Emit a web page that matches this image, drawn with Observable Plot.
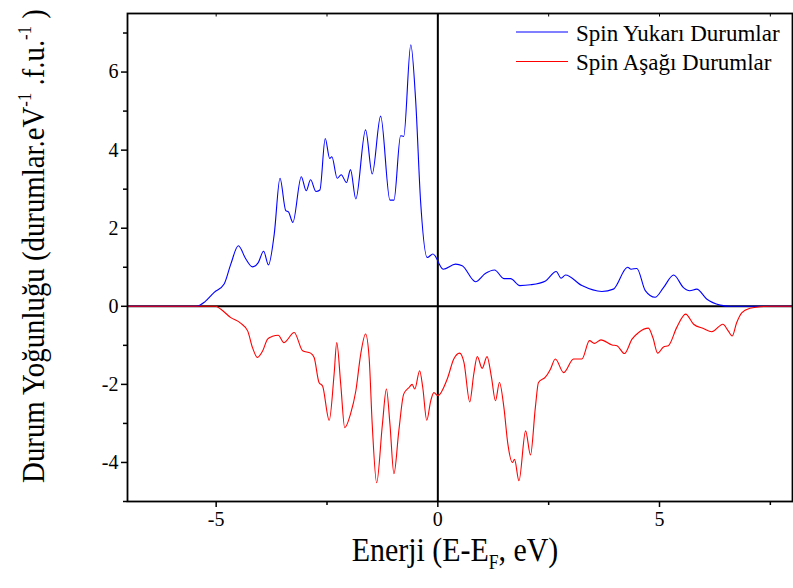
<!DOCTYPE html>
<html>
<head>
<meta charset="utf-8">
<script src="https://cdn.jsdelivr.net/npm/d3@7"></script>
<script src="https://cdn.jsdelivr.net/npm/@observablehq/plot@0.6"></script>
<style>
  html, body { margin: 0; padding: 0; background: #fff; }
  #chart svg, #chart svg text { font-family: "Liberation Serif", "Times New Roman", serif !important; }
</style>
</head>
<body>
<div id="chart"></div>
<script>
// ---- Data ----
const xDomain = [-7, 8];
const yDomain = [-5, 7.5];
const xMajorTicks = [-5, 0, 5];
const xMinorTicks = [-2.5, 2.5, 7.5];
const yMajorTicks = [-4, -2, 0, 2, 4, 6];
const yMinorTicks = [-5, -3, -1, 1, 3, 5, 7];

const seriesNames = ["Spin Yukarı Durumlar", "Spin Aşağı Durumlar"];
const seriesColors = ["#0000ff", "#ff0000"];

const energyUp = [-7, -5.45, -5.25, -5.05, -4.82, -4.67, -4.50, -4.33, -4.18, -4.05, -3.93, -3.82, -3.69, -3.56, -3.43, -3.37, -3.27, -3.08, -2.97, -2.87, -2.75, -2.66, -2.54, -2.44, -2.39, -2.27, -2.18, -2.06, -1.97, -1.85, -1.63, -1.48, -1.29, -1.08, -0.99, -0.84, -0.77, -0.61, -0.50, -0.39, -0.24, -0.11, 0.12, 0.40, 0.55, 0.85, 1.07, 1.28, 1.49, 1.64, 1.85, 2.09, 2.43, 2.67, 2.78, 2.88, 3.25, 3.70, 3.96, 4.28, 4.36, 4.49, 4.68, 4.90, 5.09, 5.32, 5.54, 5.68, 5.84, 6.07, 6.37, 6.59, 8];
const dosUp = [0, 0, 0.12, 0.35, 0.57, 1.08, 1.55, 1.21, 1.01, 1.12, 1.41, 1.06, 1.85, 3.28, 2.45, 2.42, 2.15, 3.32, 2.96, 3.24, 2.94, 2.98, 4.30, 3.79, 3.83, 3.28, 3.37, 3.17, 3.50, 2.75, 4.52, 3.39, 4.87, 2.72, 2.72, 4.37, 4.35, 6.70, 5.27, 2.71, 1.25, 1.34, 0.95, 1.08, 1.04, 0.63, 0.84, 0.93, 0.71, 0.71, 0.53, 0.55, 0.65, 0.89, 0.72, 0.80, 0.53, 0.38, 0.44, 1.00, 0.95, 0.97, 0.40, 0.23, 0.48, 0.80, 0.48, 0.40, 0.44, 0.18, 0.03, 0, 0];

const energyDown = [-7, -5.01, -4.90, -4.67, -4.45, -4.29, -4.18, -4.07, -3.95, -3.84, -3.73, -3.60, -3.47, -3.24, -3.05, -2.87, -2.79, -2.68, -2.60, -2.45, -2.34, -2.28, -2.19, -2.10, -1.97, -1.85, -1.74, -1.63, -1.55, -1.48, -1.38, -1.25, -1.16, -1.08, -0.99, -0.88, -0.77, -0.65, -0.58, -0.52, -0.41, -0.34, -0.25, -0.16, -0.09, 0.00, 0.21, 0.36, 0.49, 0.59, 0.72, 0.81, 0.89, 1.00, 1.11, 1.21, 1.30, 1.39, 1.49, 1.58, 1.68, 1.73, 1.83, 1.98, 2.09, 2.20, 2.27, 2.43, 2.54, 2.65, 2.84, 3.06, 3.25, 3.42, 3.53, 3.68, 3.93, 4.04, 4.21, 4.38, 4.53, 4.75, 4.85, 4.96, 5.09, 5.20, 5.39, 5.59, 5.77, 5.99, 6.18, 6.43, 6.55, 6.64, 6.74, 6.86, 7.04, 7.27, 7.5, 8];
const dosDown = [0, 0, -0.07, -0.29, -0.43, -0.63, -1.06, -1.31, -1.14, -0.84, -0.77, -0.74, -0.93, -0.67, -1.14, -1.20, -1.31, -1.95, -2.04, -2.92, -1.74, -0.93, -2.00, -3.11, -2.76, -2.17, -1.23, -0.71, -1.31, -3.02, -4.52, -3.02, -2.12, -3.02, -4.29, -3.19, -2.25, -2.08, -2.00, -2.12, -1.65, -2.08, -2.92, -2.42, -2.21, -2.29, -1.87, -1.35, -1.20, -1.44, -2.45, -1.74, -1.29, -1.59, -1.29, -1.82, -2.42, -1.95, -2.59, -3.53, -4.00, -3.92, -4.47, -3.19, -3.81, -2.59, -1.95, -1.81, -1.61, -1.35, -1.70, -1.35, -1.35, -0.88, -0.95, -0.86, -0.99, -1.01, -1.21, -0.84, -0.67, -0.56, -0.80, -1.20, -1.04, -1.01, -0.54, -0.20, -0.46, -0.57, -0.65, -0.46, -0.63, -0.76, -0.42, -0.16, -0.05, -0.01, 0, 0];

// ---- Build tables ----
const upData = energyUp.map((e, i) => ({e, v: dosUp[i]}));
const downData = energyDown.map((e, i) => ({e, v: dosDown[i]}));
const topTicks = [...xMajorTicks, ...xMinorTicks];

const W = 793, H = 588;
const mL = 127, mR = 1, mT = 13, mB = 87;
const FONT = "'Liberation Serif', 'Times New Roman', serif";

const chart = Plot.plot({
  width: W,
  height: H,
  marginLeft: mL,
  marginRight: mR,
  marginTop: mT,
  marginBottom: mB,
  x: {domain: xDomain},
  y: {domain: yDomain},
  style: {fontFamily: FONT, fontSize: "20px", color: "#000", background: "#fff"},
  marks: [
    Plot.axisX(xMajorTicks, {tickSize: 6, tickPadding: 4, tickFormat: d => String(d), label: null, fontSize: 20, strokeWidth: 1.5}),
    Plot.axisX(xMinorTicks, {tickSize: 4, tickFormat: () => "", label: null, strokeWidth: 1.5}),
    Plot.axisY(yMajorTicks, {tickSize: 6, tickPadding: 3, tickFormat: d => String(d), label: null, fontSize: 20, strokeWidth: 1.5}),
    Plot.axisY(yMinorTicks, {tickSize: 4, tickFormat: () => "", label: null, strokeWidth: 1.5}),
    Plot.ruleX(topTicks, {y1: yDomain[1], y2: yDomain[1] - 0.09, stroke: "#000", strokeWidth: 1}),
    Plot.ruleY([0], {stroke: "#000", strokeWidth: 2}),
    Plot.ruleX([0], {stroke: "#000", strokeWidth: 2}),
    Plot.line(upData, {x: "e", y: "v", stroke: seriesColors[0], strokeWidth: 1.1, curve: "monotone-x"}),
    Plot.line(downData, {x: "e", y: "v", stroke: seriesColors[1], strokeWidth: 1.1, curve: "monotone-x"}),
    Plot.frame({stroke: "#000", strokeWidth: 1.8})
  ]
});

document.getElementById("chart").appendChild(chart);

// ---- Titles and legend as real SVG text ----
const svg = d3.select(chart);
svg.selectAll("text").attr("font-family", FONT).style("font-size", "20px");

// X title
const xt = svg.append("text")
  .attr("transform", "translate(455,561) scale(0.88,1)")
  .attr("text-anchor", "middle")
  .attr("font-family", FONT)
  .style("font-size", "34px")
  .attr("fill", "#000");
xt.append("tspan").text("Enerji (E-E");
xt.append("tspan").attr("dy", 8).style("font-size", "20px").text("F");
xt.append("tspan").attr("dy", -8).text(", eV)");

// Y title
const yt = svg.append("text")
  .attr("transform", "translate(44,246) rotate(-90) scale(0.93,1)")
  .attr("text-anchor", "middle")
  .attr("font-family", FONT)
  .style("font-size", "31px")
  .attr("fill", "#000");
yt.append("tspan").text("Durum Yoğunluğu (durumlar.eV");
yt.append("tspan").attr("dy", -13).style("font-size", "18px").text("-1");
yt.append("tspan").attr("dy", 13).text(" .f.u.");
yt.append("tspan").attr("dy", -13).style("font-size", "18px").text("-1");
yt.append("tspan").attr("dy", 13).text(" )");

// Legend
const legend = svg.append("g")
  .attr("font-family", FONT)
  .attr("text-anchor", "start")
  .style("font-size", "23px");
seriesNames.forEach((name, i) => {
  const y = 32 + i * 29.5;
  legend.append("line")
    .attr("x1", 516).attr("x2", 568).attr("y1", y).attr("y2", y)
    .attr("stroke", seriesColors[i]).attr("stroke-width", 1.1);
  legend.append("text")
    .attr("x", 576).attr("y", y + 8.5)
    .attr("text-anchor", "start")
    .attr("fill", "#000")
    .text(name);
});
</script>
</body>
</html>
